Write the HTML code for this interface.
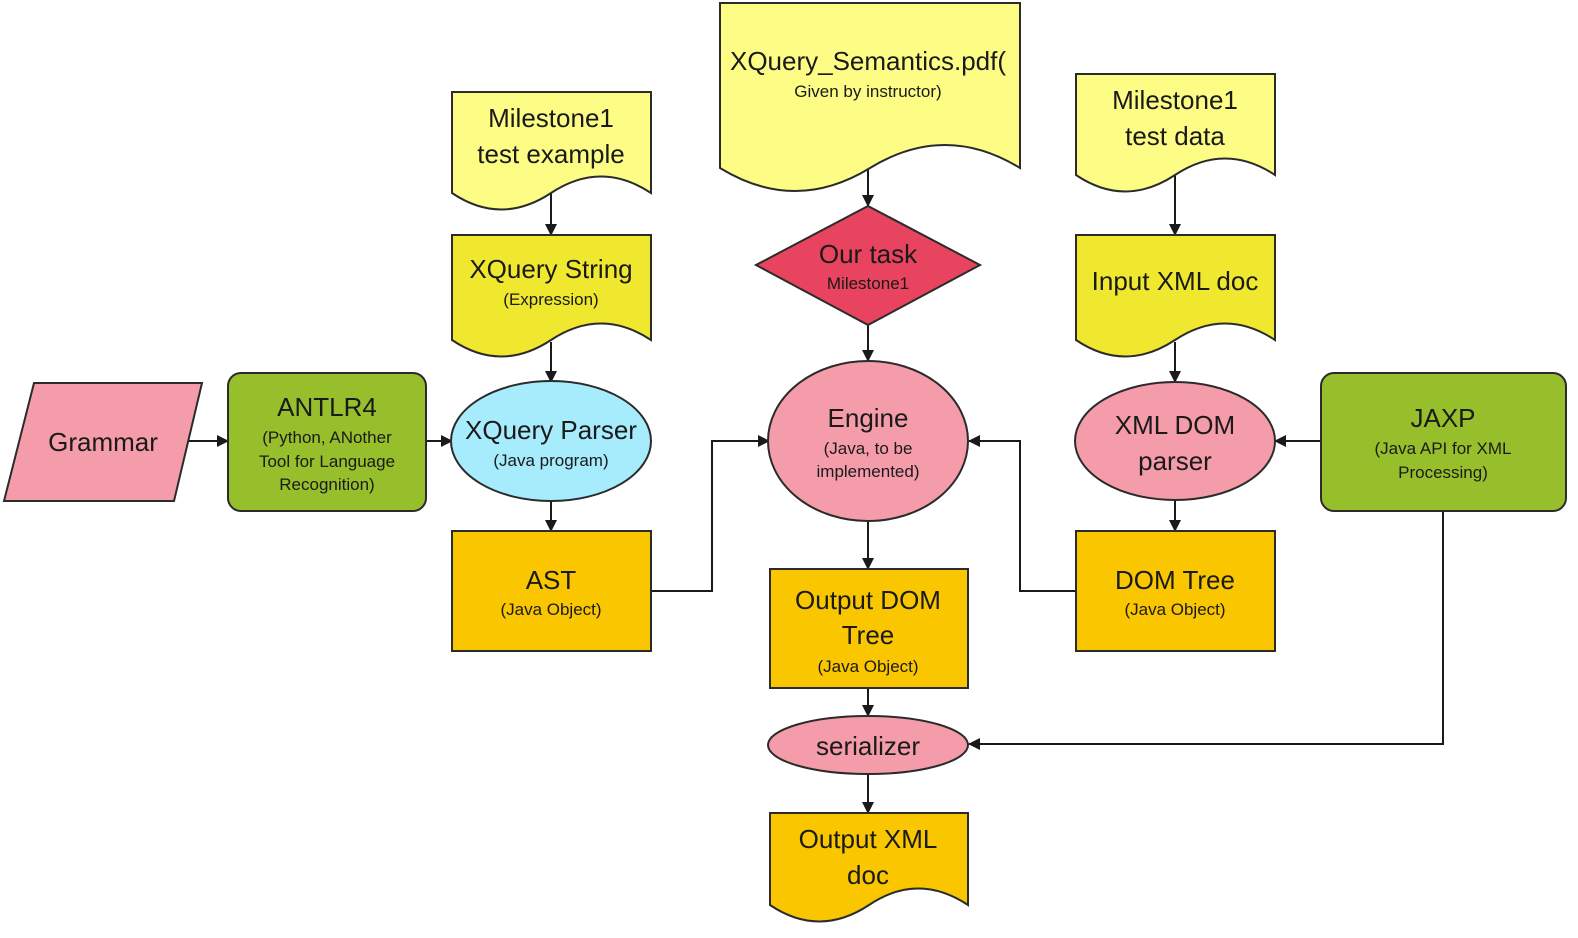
<!DOCTYPE html>
<html><head><meta charset="utf-8"><style>
html,body{margin:0;padding:0;background:#fff;}
svg{display:block;}
text{font-family:"Liberation Sans",sans-serif;fill:#1a1a1a;text-anchor:middle;}
.b{font-size:26px;}
.s{font-size:17px;}
.sh{stroke:#2b2b2b;stroke-width:2;}
.ln{stroke:#1a1a1a;stroke-width:2;fill:none;}
</style></head><body>
<svg width="1578" height="938" viewBox="0 0 1578 938" xmlns="http://www.w3.org/2000/svg">
<defs><marker id="a" markerWidth="12" markerHeight="12" refX="11" refY="6" orient="auto" markerUnits="userSpaceOnUse"><path d="M0,0 L12,6 L0,12 z" fill="#1a1a1a"/></marker></defs>

<!-- connectors -->
<path class="ln" d="M551,193 V235" marker-end="url(#a)"/>
<path class="ln" d="M551,342 V382" marker-end="url(#a)"/>
<path class="ln" d="M551,501 V531" marker-end="url(#a)"/>
<path class="ln" d="M868,168 V206" marker-end="url(#a)"/>
<path class="ln" d="M868,325 V361" marker-end="url(#a)"/>
<path class="ln" d="M868,521 V569" marker-end="url(#a)"/>
<path class="ln" d="M868,688 V716" marker-end="url(#a)"/>
<path class="ln" d="M868,774 V813" marker-end="url(#a)"/>
<path class="ln" d="M1175,175 V235" marker-end="url(#a)"/>
<path class="ln" d="M1175,342 V382" marker-end="url(#a)"/>
<path class="ln" d="M1175,500 V531" marker-end="url(#a)"/>
<path class="ln" d="M188,441 H228" marker-end="url(#a)"/>
<path class="ln" d="M426,441 H452" marker-end="url(#a)"/>
<path class="ln" d="M1321,441 H1275" marker-end="url(#a)"/>
<path class="ln" d="M651,591 H712 V441 H769" marker-end="url(#a)"/>
<path class="ln" d="M1076,591 H1020 V441 H969" marker-end="url(#a)"/>
<path class="ln" d="M1443,511 V744 H969" marker-end="url(#a)"/>

<!-- documents -->
<path class="sh" fill="#fdfd86" d="M452,92 H651 V193 Q601,160 551,193 Q501,226 452,193 Z"/>
<text class="b" x="551" y="127">Milestone1</text><text class="b" x="551" y="163">test example</text>

<path class="sh" fill="#efe82e" d="M452,235 H651 V340 Q601,307 551,340 Q501,373 452,340 Z"/>
<text class="b" x="551" y="278">XQuery String</text><text class="s" x="551" y="305">(Expression)</text>

<path class="sh" fill="#fdfd86" d="M720,3 H1020 V168 Q945,122 870,168 Q795,214 720,168 Z"/>
<text class="b" x="868" y="70">XQuery_Semantics.pdf(</text><text class="s" x="868" y="97">Given by instructor)</text>

<path class="sh" fill="#fdfd86" d="M1076,74 H1275 V175 Q1225,142 1175,175 Q1125,208 1076,175 Z"/>
<text class="b" x="1175" y="109">Milestone1</text><text class="b" x="1175" y="145">test data</text>

<path class="sh" fill="#efe82e" d="M1076,235 H1275 V340 Q1225,307 1175,340 Q1125,373 1076,340 Z"/>
<text class="b" x="1175" y="290">Input XML doc</text>

<path class="sh" fill="#f9c600" d="M770,813 H968 V905 Q918,872 869,905 Q819,938 770,905 Z"/>
<text class="b" x="868" y="848">Output XML</text><text class="b" x="868" y="884">doc</text>

<!-- diamond -->
<path class="sh" fill="#e8435f" d="M868,206 L980,265 L868,325 L756,265 Z"/>
<text class="b" x="868" y="263">Our task</text><text class="s" x="868" y="289">Milestone1</text>

<!-- ellipses -->
<ellipse class="sh" fill="#a6ecfc" cx="551" cy="441" rx="100" ry="60"/>
<text class="b" x="551" y="439">XQuery Parser</text><text class="s" x="551" y="466">(Java program)</text>

<ellipse class="sh" fill="#f59caa" cx="868" cy="441" rx="100" ry="80"/>
<text class="b" x="868" y="427">Engine</text><text class="s" x="868" y="454">(Java, to be</text><text class="s" x="868" y="477">implemented)</text>

<ellipse class="sh" fill="#f59caa" cx="1175" cy="441" rx="100" ry="59"/>
<text class="b" x="1175" y="434">XML DOM</text><text class="b" x="1175" y="470">parser</text>

<ellipse class="sh" fill="#f59caa" cx="868" cy="745" rx="100" ry="29"/>
<text class="b" x="868" y="755">serializer</text>

<!-- grammar -->
<path class="sh" fill="#f59caa" d="M34,383 H202 L174,501 H4 Z"/>
<text class="b" x="103" y="451">Grammar</text>

<!-- rounded rects -->
<rect class="sh" fill="#97bf2c" x="228" y="373" width="198" height="138" rx="13"/>
<text class="b" x="327" y="416">ANTLR4</text><text class="s" x="327" y="443">(Python, ANother</text><text class="s" x="327" y="467">Tool for Language</text><text class="s" x="327" y="490">Recognition)</text>

<rect class="sh" fill="#97bf2c" x="1321" y="373" width="245" height="138" rx="13"/>
<text class="b" x="1443" y="427">JAXP</text><text class="s" x="1443" y="454">(Java API for XML</text><text class="s" x="1443" y="478">Processing)</text>

<!-- rects -->
<rect class="sh" fill="#f9c600" x="452" y="531" width="199" height="120"/>
<text class="b" x="551" y="589">AST</text><text class="s" x="551" y="615">(Java Object)</text>

<rect class="sh" fill="#f9c600" x="1076" y="531" width="199" height="120"/>
<text class="b" x="1175" y="589">DOM Tree</text><text class="s" x="1175" y="615">(Java Object)</text>

<rect class="sh" fill="#f9c600" x="770" y="569" width="198" height="119"/>
<text class="b" x="868" y="609">Output DOM</text><text class="b" x="868" y="644">Tree</text><text class="s" x="868" y="672">(Java Object)</text>
</svg>
</body></html>
